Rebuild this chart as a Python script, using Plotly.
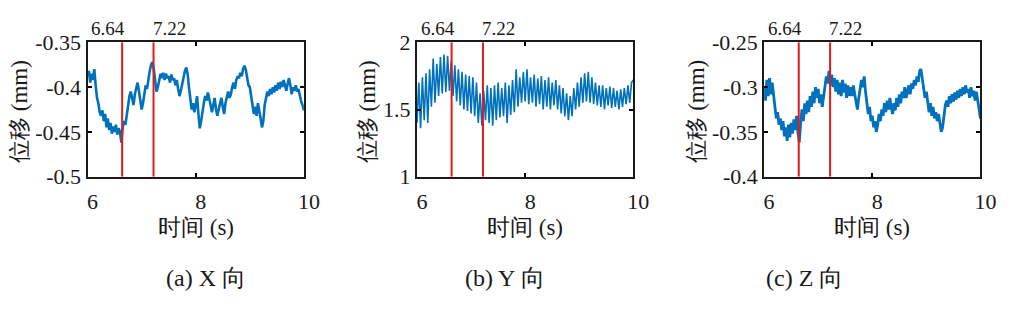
import numpy as np
import plotly.graph_objects as go

# ---------------- data ----------------
t_start, t_end = 6.0, 10.0

disp_x = [
    -0.388, -0.382, -0.395, -0.385,
    -0.392, -0.380, -0.398, -0.412,
    -0.418, -0.428, -0.432, -0.426,
    -0.438, -0.430, -0.445, -0.435,
    -0.448, -0.440, -0.452, -0.444,
    -0.450, -0.442, -0.453, -0.446,
    -0.450, -0.462, -0.445, -0.438,
    -0.442, -0.430, -0.420, -0.410,
    -0.405, -0.415, -0.420, -0.408,
    -0.400, -0.395, -0.404, -0.415,
    -0.425, -0.418, -0.410, -0.398,
    -0.402, -0.390, -0.382, -0.375,
    -0.372, -0.380, -0.392, -0.405,
    -0.400, -0.392, -0.385, -0.390,
    -0.384, -0.392, -0.385, -0.390,
    -0.388, -0.395, -0.386, -0.392,
    -0.390, -0.398, -0.392, -0.402,
    -0.410, -0.404, -0.396, -0.388,
    -0.382, -0.378, -0.385, -0.400,
    -0.412, -0.425, -0.418, -0.428,
    -0.420, -0.410, -0.430, -0.446,
    -0.438, -0.425, -0.418, -0.410,
    -0.415, -0.406, -0.412, -0.420,
    -0.428, -0.420, -0.412, -0.425,
    -0.432, -0.425, -0.418, -0.412,
    -0.422, -0.430, -0.418, -0.412,
    -0.405, -0.412, -0.408, -0.400,
    -0.395, -0.402, -0.392, -0.388,
    -0.390, -0.384, -0.388, -0.380,
    -0.376, -0.380, -0.388, -0.398,
    -0.400, -0.412, -0.418, -0.430,
    -0.422, -0.432, -0.418, -0.425,
    -0.435, -0.445, -0.438, -0.420,
    -0.410, -0.405, -0.410, -0.402,
    -0.408, -0.400, -0.406, -0.398,
    -0.404, -0.395, -0.402, -0.394,
    -0.400, -0.392, -0.398, -0.404,
    -0.396, -0.390, -0.398, -0.408,
    -0.400, -0.404, -0.398, -0.405,
    -0.402, -0.410, -0.416, -0.420,
    -0.426,
]

disp_y = [
    1.40, 1.70, 1.36, 1.74, 1.42, 1.77,
    1.40, 1.80, 1.52, 1.88, 1.55, 1.84,
    1.60, 1.89, 1.62, 1.91, 1.63, 1.90,
    1.64, 1.86, 1.60, 1.83, 1.56, 1.80,
    1.53, 1.78, 1.50, 1.76, 1.49, 1.75,
    1.47, 1.74, 1.45, 1.70, 1.40, 1.62,
    1.38, 1.64, 1.42, 1.68, 1.40, 1.66,
    1.38, 1.68, 1.42, 1.70, 1.44, 1.66,
    1.45, 1.70, 1.40, 1.68, 1.46, 1.72,
    1.48, 1.80, 1.52, 1.74, 1.55, 1.78,
    1.56, 1.80, 1.54, 1.74, 1.55, 1.76,
    1.52, 1.73, 1.54, 1.75, 1.50, 1.72,
    1.52, 1.74, 1.50, 1.70, 1.53, 1.72,
    1.50, 1.68, 1.47, 1.66, 1.45, 1.62,
    1.42, 1.60, 1.45, 1.66, 1.50, 1.70,
    1.52, 1.74, 1.55, 1.77, 1.56, 1.78,
    1.55, 1.74, 1.54, 1.70, 1.53, 1.68,
    1.52, 1.68, 1.50, 1.66, 1.53, 1.67,
    1.51, 1.66, 1.52, 1.64, 1.50, 1.65,
    1.52, 1.66, 1.54, 1.68, 1.55, 1.70,
    1.72,
]

disp_z = [
    -0.300, -0.315, -0.292, -0.310,
    -0.290, -0.308, -0.295, -0.312,
    -0.322, -0.335, -0.328, -0.342,
    -0.335, -0.348, -0.338, -0.355,
    -0.345, -0.360, -0.342, -0.356,
    -0.340, -0.352, -0.336, -0.348,
    -0.332, -0.350, -0.362, -0.340,
    -0.325, -0.338, -0.318, -0.330,
    -0.315, -0.328, -0.310, -0.322,
    -0.305, -0.318, -0.300, -0.312,
    -0.302, -0.318, -0.308, -0.322,
    -0.310, -0.300, -0.288, -0.296,
    -0.282, -0.298, -0.286, -0.300,
    -0.290, -0.305, -0.292, -0.308,
    -0.295, -0.310, -0.292, -0.306,
    -0.296, -0.312, -0.298, -0.310,
    -0.300, -0.310, -0.298, -0.308,
    -0.318, -0.325, -0.312, -0.300,
    -0.292, -0.300, -0.288, -0.305,
    -0.318, -0.330, -0.322, -0.338,
    -0.332, -0.345, -0.338, -0.350,
    -0.342, -0.330, -0.338, -0.325,
    -0.332, -0.318, -0.328, -0.315,
    -0.325, -0.312, -0.322, -0.330,
    -0.318, -0.326, -0.312, -0.322,
    -0.308, -0.318, -0.305, -0.312,
    -0.300, -0.312, -0.305, -0.298,
    -0.308, -0.296, -0.302, -0.292,
    -0.298, -0.288, -0.294, -0.282,
    -0.280, -0.292, -0.300, -0.312,
    -0.305, -0.320, -0.328, -0.318,
    -0.332, -0.322, -0.335, -0.328,
    -0.338, -0.330, -0.342, -0.350,
    -0.345, -0.332, -0.320, -0.315,
    -0.322, -0.310, -0.318, -0.308,
    -0.316, -0.306, -0.314, -0.304,
    -0.312, -0.302, -0.310, -0.300,
    -0.308, -0.298, -0.306, -0.302,
    -0.312, -0.300, -0.310, -0.304,
    -0.315, -0.305, -0.318, -0.325,
    -0.335,
]

marker_times = [6.64, 7.22]
marker_labels = ["6.64", "7.22"]

x_tick_vals = [6, 8, 10]
x_tick_text = ["6", "8", "10"]

y_ranges = [[-0.5, -0.35], [1, 2], [-0.4, -0.25]]
y_tick_vals = [[-0.5, -0.45, -0.4, -0.35], [1, 1.5, 2], [-0.4, -0.35, -0.3, -0.25]]
y_tick_text = [["-0.5", "-0.45", "-0.4", "-0.35"], ["1", "1.5", "2"],
               ["-0.4", "-0.35", "-0.3", "-0.25"]]

series = [disp_x, disp_y, disp_z]
captions = ["(a) X 向", "(b) Y 向", "(c) Z 向"]
x_title = "时间 (s)"
y_title = "位移 (mm)"

# ---------------- layout geometry ----------------
W, H = 1024, 312
x_domains = [[88 / W, 308 / W], [423 / W, 643 / W], [776 / W, 996 / W]]
y_domain = [1 - 179 / H, 1 - 33 / H]
ytitle_x = [19 / W, 373 / W, 707 / W]
caption_x = [208 / W, 513 / W, 817 / W]

FONT = "Liberation Serif"
BLUE = "#0072BD"
RED = "#E3191C"
TXT = "#1a1a1a"
line_widths = [2.6, 1.6, 2.8]

fig = go.Figure()
annotations = []

for k, vals in enumerate(series):
    n = len(vals)
    t = np.linspace(t_start, t_end, n)
    xa = "x" if k == 0 else f"x{k + 1}"
    ya = "y" if k == 0 else f"y{k + 1}"
    fig.add_trace(go.Scatter(x=t, y=vals, mode="lines", xaxis=xa, yaxis=ya,
                             line=dict(color=BLUE, width=line_widths[k]),
                             showlegend=False, hoverinfo="skip"))
    for mt in marker_times:
        fig.add_trace(go.Scatter(x=[mt, mt], y=y_ranges[k], mode="lines",
                                 xaxis=xa, yaxis=ya, line=dict(color=RED, width=2),
                                 showlegend=False, hoverinfo="skip"))
    sfx = "" if k == 0 else str(k + 1)
    fig.layout["xaxis" + sfx] = dict(
        domain=x_domains[k], range=[t_start, t_end], anchor=ya,
        tickvals=x_tick_vals, ticktext=x_tick_text,
        ticks="inside", ticklen=4, tickwidth=1.5, tickcolor="black",
        showline=True, linecolor=TXT, linewidth=2, mirror="ticks",
        showgrid=False, zeroline=False, ticklabelshift=5, ticklabelstandoff=4,
        tickfont=dict(family=FONT, size=22, color=TXT))
    fig.layout["yaxis" + sfx] = dict(
        domain=y_domain, range=y_ranges[k], anchor=xa,
        tickvals=y_tick_vals[k], ticktext=y_tick_text[k],
        ticks="inside", ticklen=4, tickwidth=1.5, tickcolor="black",
        showline=True, linecolor=TXT, linewidth=2, mirror="ticks",
        showgrid=False, zeroline=False,
        tickfont=dict(family=FONT, size=22, color=TXT))

    # marker labels above plot
    for mt, lab, anch, sh in zip(marker_times, marker_labels, ["right", "left"], [5, -3]):
        annotations.append(dict(x=mt, y=1, xref=xa, yref=ya + " domain",
                                text=lab, showarrow=False, xanchor=anch,
                                yanchor="bottom", xshift=sh, yshift=1,
                                font=dict(family=FONT, size=19, color=TXT)))
    # x title
    annotations.append(dict(x=0.5, y=1 - 234 / H, xref=xa + " domain", yref="paper",
                            text=x_title, showarrow=False, xanchor="center",
                            yanchor="middle",
                            font=dict(family=FONT, size=23, color=TXT)))
    # y title
    annotations.append(dict(x=ytitle_x[k], y=1 - 108 / H, xref="paper", yref="paper",
                            text=y_title, showarrow=False, textangle=-90,
                            xanchor="center", yanchor="middle",
                            font=dict(family=FONT, size=23, color=TXT)))
    # caption
    annotations.append(dict(x=caption_x[k], y=1 - 289 / H, xref="paper", yref="paper",
                            text=captions[k], showarrow=False, xanchor="center",
                            yanchor="middle",
                            font=dict(family=FONT, size=24, color=TXT)))

fig.update_layout(width=W, height=H, margin=dict(l=0, r=0, t=0, b=0),
                  paper_bgcolor="white", plot_bgcolor="white",
                  font=dict(family=FONT),
                  annotations=annotations, showlegend=False)

fig.write_html("out.html")
